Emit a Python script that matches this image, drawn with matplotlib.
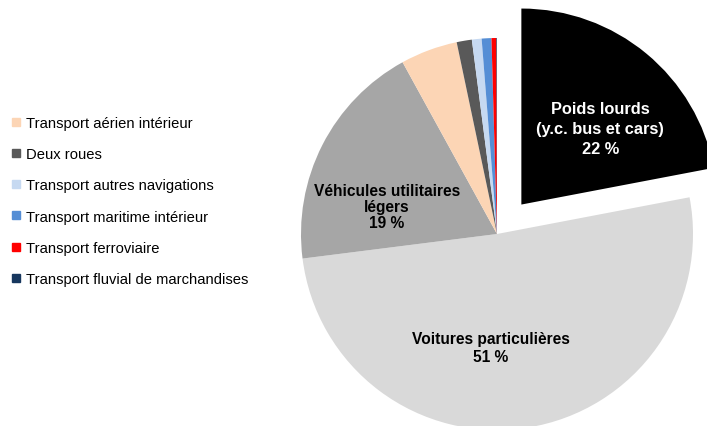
import numpy as np
import matplotlib.pyplot as plt
from matplotlib.lines import Line2D

plt.rcParams['font.family'] = ['Liberation Sans', 'DejaVu Sans']

# DONNEES
categories = ['Poids lourds\n(y.c. bus et cars)', 'Voitures particulières', 'Véhicules utilitaires\nlégers',
              'Transport aérien intérieur', 'Deux roues', 'Transport autres navigations',
              'Transport maritime intérieur', 'Transport ferroviaire', 'Transport fluvial de marchandises']
valeurs = [22.0, 51.0, 19.0, 4.7, 1.25, 0.8, 0.8, 0.4, 0.05]
etiquettes = ['22 %', '51 %', '19 %']
couleurs = ['#000000', '#d9d9d9', '#a6a6a6', '#fcd5b5', '#595959', '#c6d9f1', '#558ed5', '#ff0000', '#17375e']
eclatement = [0.195, 0, 0, 0, 0, 0, 0, 0, 0]

fig = plt.figure(figsize=(7.07, 4.27), dpi=100)
ax = fig.add_axes([0, 0, 1, 1])

centre = (497, 192)
rayon = 196
# explode de matplotlib est en unités de données -> multiplier par le rayon
wedges, _ = ax.pie(valeurs, colors=couleurs, explode=[e * rayon for e in eclatement],
                   startangle=90, counterclock=False,
                   center=centre, radius=rayon, wedgeprops={'linewidth': 0})
ax.set_xlim(0, 707)
ax.set_ylim(0, 427)
ax.set_aspect('equal')
ax.axis('off')

# étiquettes des trois grandes parts (angle en degrés, fraction du rayon) par rapport au centre de la part
pos_etiquettes = [(44, 0.56), (267, 0.58), (166, 0.58)]
couleurs_texte = ['white', 'black', 'black']
tailles = [11.8, 11.2, 11.2]
interlignes = [1.4, 1.2, 1.1]
for i in range(3):
    w = wedges[i]
    ang, frac = pos_etiquettes[i]
    x = w.center[0] + frac * rayon * np.cos(np.radians(ang))
    y = w.center[1] + frac * rayon * np.sin(np.radians(ang))
    ax.text(x, y, categories[i] + '\n' + etiquettes[i], ha='center', va='center',
            fontsize=tailles[i], fontweight='bold', color=couleurs_texte[i], linespacing=interlignes[i])

# LEGENDE
poignees = [Line2D([], [], marker='s', linestyle='none', markersize=5.5, color=couleurs[i])
            for i in range(3, len(categories))]
ax.legend(poignees, categories[3:], loc='upper left', bbox_to_anchor=(0.008, 0.74),
          bbox_transform=fig.transFigure, frameon=False, fontsize=10.6,
          handlelength=0.6, handletextpad=0.35, labelspacing=1.17, borderaxespad=0)

plt.savefig('out.png', dpi=100)
